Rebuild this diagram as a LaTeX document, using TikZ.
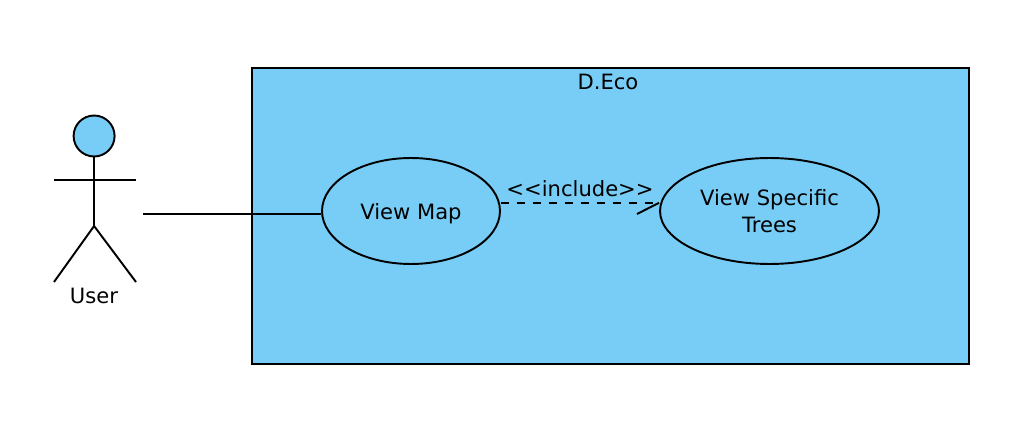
\documentclass[tikz,border=0pt]{standalone}
\usepackage{fontspec}
\setmainfont{DejaVu Sans}
\usepackage{xcolor}
\usetikzlibrary{shapes.geometric, positioning, calc}
\definecolor{ucblue}{HTML}{78CDF6}
\tikzset{
    usecase/.style={draw, ellipse, fill=ucblue, inner sep=0pt, align=center, font=\fontsize{12}{15.5}\selectfont},
    label/.style={font=\fontsize{12}{14}\selectfont},
    thinline/.style={line width=1pt}
}
\begin{document}
\begin{tikzpicture}[x=0.02cm,y=-0.02cm,line width=1.1pt]
\useasboundingbox (0,0) rectangle (1022,436);
% System box
\node[draw, fill=ucblue, minimum width=14.34cm, minimum height=5.92cm, inner sep=0pt] (system) at (610.5,216) {};
\node[label] (systitle) at (608,82) {D.Eco};
% Actor
\node[draw, circle, fill=ucblue, minimum size=0.82cm, inner sep=0pt] (head) at (94.1,136) {};
\coordinate (hip) at (94.1,226);
\coordinate (armL) at (54,180);
\coordinate (armR) at (136,180);
\coordinate (footL) at (54,282);
\coordinate (footR) at (136,282);
\coordinate (userend) at (143,214);
\draw (head) -- (hip);
\draw (armL) -- (armR);
\draw (footL) -- (hip) -- (footR);
\node[label] (user) at (94,296) {User};
% Use cases
\node[usecase, text depth=0pt, minimum width=3.56cm, minimum height=2.12cm] (viewmap) at (411,211) {View Map};
\node[usecase, minimum width=4.38cm, minimum height=2.12cm] (viewtrees) at (769.5,211) {View Specific\\Trees};
% Connectors
\coordinate (incly) at (580,202.8);
\coordinate (barb) at (637,214);
\draw (userend) -- (viewmap.west |- userend);
\draw[thinline, dash pattern=on 4.5pt off 4.6pt] (viewmap.east |- incly) -- (viewtrees.west |- incly);
\draw (viewtrees.west |- incly) -- (barb);
\node[label] (incl) at (580,189) {{<}{<}include{>}{>}};
\end{tikzpicture}
\end{document}
